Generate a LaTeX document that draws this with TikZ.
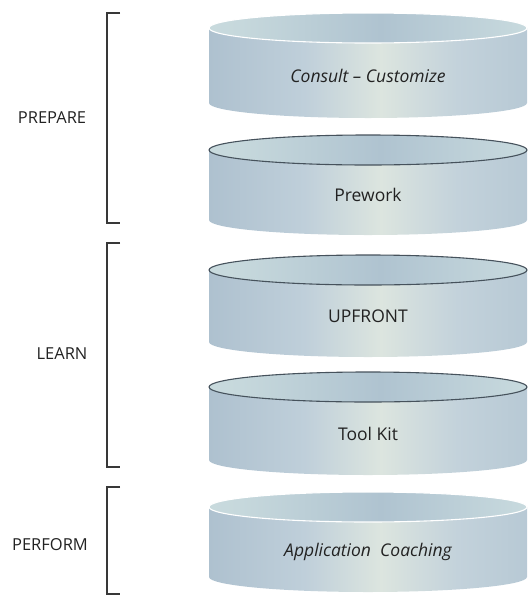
\documentclass[tikz,border=0pt]{standalone}
\usepackage{fontspec}
\setmainfont{Open Sans}
\usepackage{tikz}
\usetikzlibrary{positioning,calc}

\definecolor{inkgray}{HTML}{222222}
\definecolor{rimdark}{HTML}{46525C}
\definecolor{sidea}{HTML}{A9BDCC}
\definecolor{sideb}{HTML}{AEC1CF}
\definecolor{sidec}{HTML}{BFCFDA}
\definecolor{sidemid}{HTML}{DCE5DF}
\definecolor{sided}{HTML}{C3D2DB}
\definecolor{sidee}{HTML}{B2C5D2}
\definecolor{sidef}{HTML}{B0C3D0}
\definecolor{lida}{HTML}{D4E4E4}
\definecolor{lidb}{HTML}{C6D8DC}
\definecolor{lidmid}{HTML}{AFC3D0}
\definecolor{lidc}{HTML}{C8DADE}
\definecolor{lidd}{HTML}{D6E6E5}
\pgfdeclarehorizontalshading{discbody}{100bp}{%
  color(0bp)=(sidea); color(25bp)=(sideb); color(40bp)=(sidec);
  color(52bp)=(sidemid); color(64bp)=(sided); color(80bp)=(sidee);
  color(100bp)=(sidef)}
\pgfdeclarehorizontalshading{disclid}{100bp}{%
  color(0bp)=(lida); color(30bp)=(lidb); color(52bp)=(lidmid);
  color(75bp)=(lidc); color(100bp)=(lidd)}

\begin{document}
\begin{tikzpicture}[
  x=1pt, y=1pt,
  font=\fontsize{16.5}{19}\selectfont,
  body/.style={shading=discbody},
  lid/.style={shading=disclid, line width=1.1pt},
  lbl/.style={text=inkgray, inner sep=0pt},
  brk/.style={draw=inkgray!90, line width=1.6pt}]

\useasboundingbox (0,0) rectangle (529,-595);

% the five discs: name / top centre / bottom centre / rim / text
\foreach \n/\yt/\yb/\rim/\txt in {
    cons/-28/-103/white/{\itshape Consult -- Customize},
    prew/-150/-220/rimdark/{Prework},
    upfr/-270/-342/rimdark/{UPFRONT},
    tool/-387/-460/rimdark/{Tool Kit},
    coach/-507/-577/white/{\itshape Application\ \ Coaching}} {
  \shade[body] (209,\yt) -- (209,\yb)
    arc[start angle=180, end angle=360, x radius=159, y radius=15]
    -- (527,\yt) -- cycle;
  \shade[lid, draw=\rim] (368,\yt) ellipse[x radius=159, y radius=15];
  \node[lbl, font=\fontsize{17.5}{20}\selectfont] (\n) at (368,{(\yt+\yb)/2-10}) {\txt};
}

% brackets and phase names
\node[lbl] (prep) at (52,-118) {PREPARE};
\node[lbl] (learn) at (62,-354) {LEARN};
\node[lbl] (perf) at (50,-545) {PERFORM};
\draw[brk] (120,-13) -- (107,-13) -- (107,-223) -- (120,-223);
\draw[brk] (120,-243) -- (107,-243) -- (107,-467) -- (120,-467);
\draw[brk] (120,-487) -- (107,-487) -- (107,-594) -- (120,-594);
\end{tikzpicture}
\end{document}
